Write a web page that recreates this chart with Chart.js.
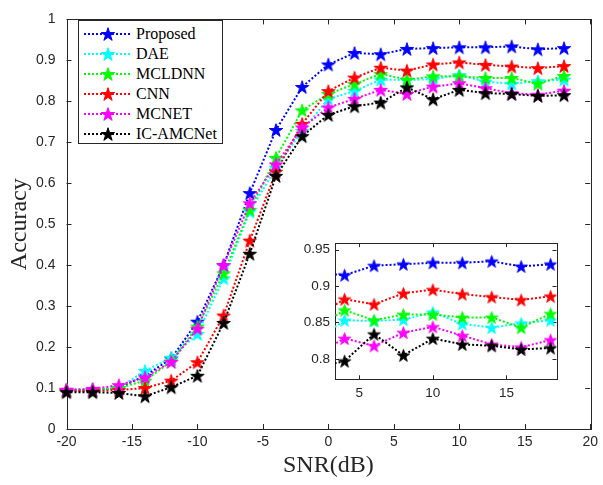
<!DOCTYPE html>
<html><head><meta charset="utf-8">
<script src="https://cdn.jsdelivr.net/npm/chart.js@4.4.0/dist/chart.umd.min.js"></script>
<style>
html,body{margin:0;padding:0;background:#fff;}
#wrap{position:relative;width:603px;height:485px;overflow:hidden;background:#fff;}
#main{position:absolute;left:0;top:0;width:603px;height:485px;}
#inset{position:absolute;left:290px;top:230px;width:275px;height:175px;background:#fff;}
#legend{position:absolute;left:78px;top:20px;width:143px;height:122px;border:1px solid #262626;background:#fff;font-family:"Liberation Serif","Times New Roman",serif;font-size:16px;color:#000;}
.row{position:absolute;left:0;height:20px;width:143px;}
.row svg{position:absolute;left:4px;top:0;}
.row span{position:absolute;left:57px;top:0;line-height:20px;white-space:nowrap;}
</style></head><body>
<div id="wrap">
<canvas id="main" width="603" height="485"></canvas>
<canvas id="inset" width="275" height="175"></canvas>
<div id="legend"></div>
</div>
<script>
// ---- data ----
const snr = [-20,-18,-16,-14,-12,-10,-8,-6,-4,-2,0,2,4,6,8,10,12,14,16,18];
const proposed = [0.095,0.095,0.100,0.130,0.172,0.262,0.400,0.576,0.730,0.835,0.890,0.918,0.915,0.928,0.930,0.932,0.932,0.934,0.927,0.930];
const dae      = [0.095,0.096,0.100,0.142,0.174,0.232,0.368,0.531,0.638,0.728,0.806,0.825,0.853,0.852,0.854,0.864,0.848,0.843,0.849,0.853];
const mcldnn   = [0.094,0.095,0.100,0.118,0.165,0.250,0.380,0.535,0.662,0.778,0.818,0.842,0.867,0.853,0.861,0.861,0.857,0.857,0.843,0.862];
const cnn      = [0.093,0.093,0.095,0.100,0.118,0.163,0.277,0.460,0.628,0.745,0.825,0.858,0.882,0.875,0.890,0.895,0.889,0.885,0.881,0.886];
const mcnet    = [0.096,0.098,0.107,0.126,0.164,0.245,0.400,0.551,0.646,0.736,0.785,0.806,0.828,0.818,0.836,0.844,0.832,0.820,0.816,0.826];
const icamcnet = [0.090,0.090,0.088,0.080,0.102,0.130,0.259,0.428,0.618,0.715,0.767,0.788,0.797,0.834,0.805,0.828,0.820,0.818,0.813,0.815];
const seriesNames  = ['Proposed','DAE','MCLDNN','CNN','MCNET','IC-AMCNet'];
const seriesValues = [proposed, dae, mcldnn, cnn, mcnet, icamcnet];
const seriesColors = ['#0000ff','#00ffff','#00ff00','#ff0000','#ff00ff','#000000'];
const mainXRange = [-20, 20], mainXStep = 5;
const mainYRange = [0, 1], mainYStep = 0.1;
const insetXRange = [3.35, 18.4], insetXStep = 5;
const insetYRange = [0.772, 0.959], insetYStep = 0.05;

const AX = '#262626';
function starPts(cx, cy, r) {
  const pts = [];
  const ri = r * 0.382;
  for (let i = 0; i < 10; i++) {
    const a = -Math.PI / 2 + i * Math.PI / 5;
    const rr = i % 2 === 0 ? r : ri;
    pts.push([cx + rr * Math.cos(a), cy + rr * Math.sin(a)]);
  }
  return pts;
}
function starImage(color, r) {
  const c = document.createElement('canvas');
  const s = Math.ceil(2 * r + 4);
  c.width = s; c.height = s;
  const g = c.getContext('2d');
  const p = starPts(s / 2, s / 2 + r * 0.1, r);
  g.beginPath();
  p.forEach((q, i) => i ? g.lineTo(q[0], q[1]) : g.moveTo(q[0], q[1]));
  g.closePath();
  g.fillStyle = color; g.fill();
  g.lineWidth = 1; g.strokeStyle = color; g.stroke();
  return c;
}

const boxTicks = {
  id: 'boxTicks',
  beforeDatasetsDraw(chart, args, opts) {
    const {ctx, chartArea: a} = chart;
    const tl = opts.len || 5;
    ctx.save();
    ctx.strokeStyle = AX; ctx.lineWidth = 1;
    ctx.beginPath();
    chart.scales.x.ticks.forEach(t => {
      const px = Math.round(chart.scales.x.getPixelForValue(t.value)) + 0.5;
      ctx.moveTo(px, a.bottom); ctx.lineTo(px, a.bottom - tl);
      ctx.moveTo(px, a.top); ctx.lineTo(px, a.top + tl);
    });
    chart.scales.y.ticks.forEach(t => {
      const py = Math.round(chart.scales.y.getPixelForValue(t.value)) + 0.5;
      ctx.moveTo(a.left, py); ctx.lineTo(a.left + tl, py);
      ctx.moveTo(a.right, py); ctx.lineTo(a.right - tl, py);
    });
    ctx.stroke();
    ctx.strokeRect(Math.round(a.left) + 0.5, Math.round(a.top) + 0.5, Math.round(a.right - a.left), Math.round(a.bottom - a.top));
    ctx.restore();
  }
};

function fmt(v) { return String(Math.round(v * 100) / 100); }

function makeDatasets(r, clip) {
  return seriesNames.map((n, i) => ({
    label: n,
    data: snr.map((x, k) => ({x: x, y: seriesValues[i][k]})),
    borderColor: seriesColors[i],
    backgroundColor: seriesColors[i],
    borderWidth: 2,
    borderDash: [2, 2],
    pointStyle: starImage(seriesColors[i], r),
    pointRadius: r,
    pointHoverRadius: r,
    tension: 0,
    order: seriesNames.length - i,
    clip: clip
  }));
}

const tickFont = {family: '"Liberation Sans", Arial, sans-serif', size: 14};
const titleFont = {family: '"Liberation Serif", "Times New Roman", serif', size: 24};

new Chart(document.getElementById('main'), {
  type: 'line',
  data: {datasets: makeDatasets(7, false)},
  options: {
    responsive: false, animation: false, devicePixelRatio: 1,
    layout: {padding: {top: 10, right: 9, left: 0, bottom: 0}},
    plugins: {legend: {display: false}, tooltip: {enabled: false}, boxTicks: {len: 5}},
    scales: {
      x: {
        type: 'linear', min: mainXRange[0], max: mainXRange[1],
        ticks: {stepSize: mainXStep, includeBounds: false, color: AX, font: tickFont, padding: 5, maxRotation: 0, autoSkip: false},
        grid: {display: false, drawTicks: false}, border: {display: false},
        title: {display: true, text: 'SNR(dB)', color: AX, font: titleFont, padding: {top: 0, bottom: 5}},
        afterFit: s => { s.height = 56; }
      },
      y: {
        type: 'linear', min: mainYRange[0], max: mainYRange[1],
        ticks: {stepSize: mainYStep, includeBounds: false, color: AX, font: tickFont, padding: 11, callback: fmt, autoSkip: false},
        grid: {display: false, drawTicks: false}, border: {display: false},
        title: {display: true, text: 'Accuracy', color: AX, font: titleFont, padding: {top: 5, bottom: 0}},
        afterFit: s => { s.width = 66.5; }
      }
    }
  },
  plugins: [boxTicks]
});

const insetFont = {family: '"Liberation Sans", Arial, sans-serif', size: 13.5};
new Chart(document.getElementById('inset'), {
  type: 'line',
  data: {datasets: makeDatasets(6.5, undefined)},
  options: {
    responsive: false, animation: false, devicePixelRatio: 1,
    layout: {padding: {top: 10.7, right: 8, left: 0, bottom: 0}},
    plugins: {legend: {display: false}, tooltip: {enabled: false}, boxTicks: {len: 4}},
    scales: {
      x: {
        type: 'linear', min: insetXRange[0], max: insetXRange[1],
        ticks: {stepSize: insetXStep, includeBounds: false, color: AX, font: insetFont, padding: 6, maxRotation: 0, autoSkip: false},
        grid: {display: false, drawTicks: false}, border: {display: false},
        afterFit: s => { s.height = 25.7; }
      },
      y: {
        type: 'linear', min: insetYRange[0], max: insetYRange[1],
        ticks: {stepSize: insetYStep, includeBounds: false, color: AX, font: insetFont, padding: 5, callback: fmt, autoSkip: false},
        grid: {display: false, drawTicks: false}, border: {display: false},
        afterFit: s => { s.width = 45; }
      }
    }
  },
  plugins: [boxTicks]
});

// legend (HTML)
const leg = document.getElementById('legend');
seriesNames.forEach((n, i) => {
  const row = document.createElement('div');
  row.className = 'row';
  row.style.top = (3 + 20 * i) + 'px';
  const p = starPts(25, 10.7, 7).map(q => q[0].toFixed(2) + ',' + q[1].toFixed(2)).join(' ');
  row.innerHTML = '<svg width="50" height="20"><line x1="1" y1="10" x2="47" y2="10" stroke="' + seriesColors[i] +
    '" stroke-width="2" stroke-dasharray="2 2"/><polygon points="' + p + '" fill="' + seriesColors[i] + '" stroke="' + seriesColors[i] +
    '" stroke-width="1"/></svg><span>' + n + '</span>';
  leg.appendChild(row);
});
</script>
</body></html>
